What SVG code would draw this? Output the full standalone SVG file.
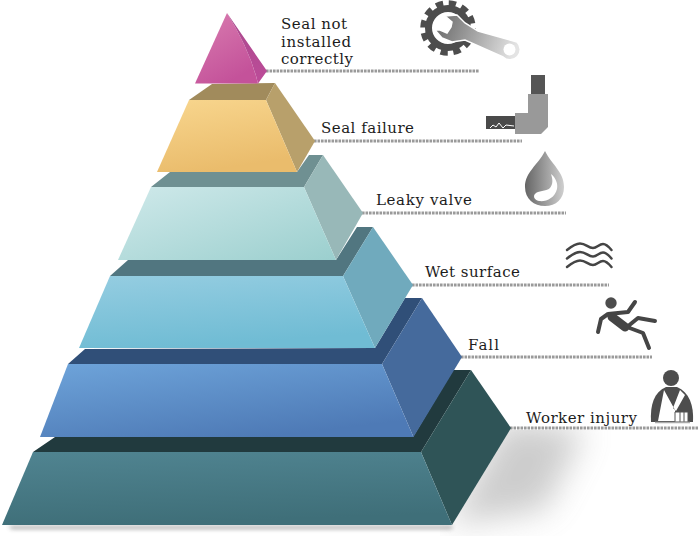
<svg xmlns="http://www.w3.org/2000/svg" width="700" height="536" viewBox="0 0 700 536">
<style>
.lbl{font-family:"DejaVu Serif","Liberation Serif",serif;font-size:15px;fill:#1c1c1c}
.ln{fill:none;stroke:#9a9a9a;stroke-width:3;stroke-dasharray:2.6 .9}
.ic{fill:#4d4d4d}
.st{fill:none;stroke:#454545;stroke-linecap:round;stroke-linejoin:round}
</style>
<defs>
<filter id="bl" x="-50%" y="-50%" width="200%" height="200%"><feGaussianBlur stdDeviation="16"/></filter>
<filter id="bs" x="-5%" y="-200%" width="110%" height="500%"><feGaussianBlur stdDeviation="2"/></filter>
<clipPath id="belowLine"><rect x="440" y="430" width="260" height="106"/></clipPath>
<linearGradient id="g0" x1="0" y1="0" x2=".5" y2="1"><stop offset="0" stop-color="#d97db0"/><stop offset="1" stop-color="#c4529a"/></linearGradient>
<linearGradient id="g0s" x1="0" y1="0" x2="0" y2="1"><stop offset="0" stop-color="#a8488c"/><stop offset="1" stop-color="#bd4c99"/></linearGradient>
<linearGradient id="g1" x1="0" y1="0" x2=".3" y2="1"><stop offset="0" stop-color="#f8d68e"/><stop offset="1" stop-color="#eabc6c"/></linearGradient>
<linearGradient id="g2" x1="0" y1="0" x2="1" y2="1"><stop offset="0" stop-color="#cfe9ea"/><stop offset="1" stop-color="#9bcfce"/></linearGradient>
<linearGradient id="g3" x1="0" y1="0" x2=".3" y2="1"><stop offset="0" stop-color="#95cde1"/><stop offset="1" stop-color="#70bcd4"/></linearGradient>
<linearGradient id="g4" x1="0" y1="0" x2=".6" y2="1"><stop offset="0" stop-color="#6ea4da"/><stop offset="1" stop-color="#4e7ab6"/></linearGradient>
<linearGradient id="g5" x1="0" y1="0" x2=".2" y2="1"><stop offset="0" stop-color="#508491"/><stop offset="1" stop-color="#3f6f79"/></linearGradient>
<linearGradient id="wr" gradientUnits="userSpaceOnUse" x1="445" y1="25" x2="515" y2="50"><stop offset="0" stop-color="#777"/><stop offset="1" stop-color="#e4e4e4"/></linearGradient>
<linearGradient id="dr" x1="0" y1="0" x2="1" y2="0"><stop offset="0" stop-color="#656565"/><stop offset="1" stop-color="#cfcfcf"/></linearGradient>
</defs>

<g id="shadow">
<g clip-path="url(#belowLine)"><polygon points="505,420 448,525 545,510 585,430" fill="#888" opacity=".42" filter="url(#bl)"/></g>
<polygon points="8,526 452,526 452,529 12,529" fill="#666" opacity=".6" filter="url(#bs)"/>
</g>

<g id="connectors">
<line class="ln" x1="266" y1="71" x2="479" y2="71"/>
<line class="ln" x1="314" y1="141" x2="522" y2="141"/>
<line class="ln" x1="362" y1="213" x2="566" y2="213"/>
<line class="ln" x1="412" y1="285" x2="609" y2="285"/>
<line class="ln" x1="461" y1="357" x2="652" y2="357"/>
<line class="ln" x1="510" y1="428" x2="698" y2="428"/>
</g>

<g id="level-worker-injury">
<polygon points="33,452 55,437 413,437 453,370 471,370 421,452" fill="#213a3e"/>
<polygon points="471,370 511,428 452,525 421,452" fill="#2f5457"/>
<polygon points="33,452 421,452 452,525 2,525" fill="url(#g5)"/>
<text class="lbl" x="526" y="423" textLength="111">Worker injury</text>
</g>
<g id="level-fall">
<polygon points="68,364 85,349 375,348 405,298 422,298 382,364" fill="#304f78"/>
<polygon points="422,298 462,357 413.5,437 382,364" fill="#456a9c"/>
<polygon points="68,364 382,364 413.5,437 40,437" fill="url(#g4)"/>
<text class="lbl" x="468" y="350" textLength="31">Fall</text>
</g>
<g id="level-wet-surface">
<polygon points="110,276 128,260 336,260 357,227 373,227 343,276" fill="#517680"/>
<polygon points="373,227 413,285 375,348 343,276" fill="#70aabd"/>
<polygon points="110,276 343,276 375,348 79,348" fill="url(#g3)"/>
<text class="lbl" x="425" y="277" textLength="95">Wet surface</text>
</g>
<g id="level-leaky-valve">
<polygon points="151,187 170,172 297,172 309,155 323,155 304,187" fill="#6f9092"/>
<polygon points="323,155 363,213 336,260 304,187" fill="#98b8b8"/>
<polygon points="151,187 304,187 336,260 118,260" fill="url(#g2)"/>
<text class="lbl" x="376" y="205" textLength="96">Leaky valve</text>
</g>
<g id="level-seal-failure">
<polygon points="189,100 212,84 275,83 266,100" fill="#a18b5c"/>
<polygon points="275,83 315,141 297,172 266,100" fill="#b8a06b"/>
<polygon points="189,100 266,100 297,172 157,172" fill="url(#g1)"/>
<text class="lbl" x="321" y="133" textLength="93">Seal failure</text>
</g>
<g id="level-seal-not-installed">
<path d="M227 13L195 83.500H258Q250 50 227 13Z" fill="url(#g0)"/>
<path d="M227 13L267 71L258 83.500Q250 50 227 13Z" fill="url(#g0s)"/>
<text class="lbl" x="281" y="29" textLength="66">Seal not</text>
<text class="lbl" x="281" y="47" textLength="70">installed</text>
<text class="lbl" x="281" y="64" textLength="72">correctly</text>
</g>

<g id="icon-gear">
<circle cx="448" cy="28" r="19.500" fill="none" stroke="#4d4d4d" stroke-width="7"/>
<circle cx="448" cy="28" r="24.500" fill="none" stroke="#4d4d4d" stroke-width="6.500" stroke-dasharray="7.200 5.630"/>
<path d="M445 16L457 15L465 23L478 31L517 42A10 10 0 0 1 503 57L465 40L452 42L442 38L435 30L440 30L447 33L451 27L452 22Z" fill="url(#wr)" stroke="#fff" stroke-width="1.500"/>
<circle cx="509.500" cy="49.500" r="6" fill="#fff"/>
</g>
<g id="icon-elbow">
<rect x="531" y="75" width="14" height="19" fill="#555"/>
<path d="M528 94H548V127L541 134H515V113H528Z" fill="#999"/>
<rect x="486" y="116" width="29" height="13" fill="#4a4a4a"/>
<path d="M490 128L493 125L496 127L499 123L503 128L506 125L514 126" fill="none" stroke="#fff" stroke-width="1"/>
</g>
<g id="icon-drop">
<path d="M545 151C538 165 525 172 525 187C525 199 534 206 545 206C556 206 564 199 564 187C564 172 552 165 545 151Z" fill="url(#dr)"/>
<path d="M551 174C556 178 558 184 557 189C555 198 546 202 539 201C534 200 533 196 535 194C538 190 546 192 550 188C553 184 553 180 551 174Z" fill="#fff"/>
</g>
<g id="icon-waves">
<path class="st" stroke-width="2.500" d="M567 250C572 246 576 243.500 580 243.500C586 243.500 588 248 593 248C597 248 599 244 603 244C606 244 609 247 611.500 250"/>
<path class="st" stroke-width="2.500" d="M567 258.500C572 254.500 576 252 580 252C586 252 588 256.500 593 256.500C597 256.500 599 252.500 603 252.500C606 252.500 609 255.500 611.500 258.500"/>
<path class="st" stroke-width="2.500" d="M567 267C572 263 576 260.500 580 260.500C586 260.500 588 265 593 265C597 265 599 261 603 261C606 261 609 264 611.500 267"/>
</g>
<g id="icon-fall">
<circle class="ic" cx="611" cy="303" r="5.700"/>
<path class="st" stroke-width="4" d="M608 314L601 319L598 332M608 314L628 312L635 302M627 327L638 318L655 321M627 327L643 333L649 348"/>
<path class="st" stroke-width="9" d="M612 317L625 327"/>
</g>
<g id="icon-injury">
<circle class="ic" cx="671" cy="378" r="8"/>
<path class="ic" d="M651 422C650 405 654 392 666 387L677 387C689 392 694 405 693 422Z"/>
<path d="M664 390L658 421H675V410ZM680 390L685 395L676 411L673 408Z" fill="#fff"/>
<path d="M675 412H688V422H675Z" fill="#fff" stroke="#555" stroke-width="1"/>
<path d="M680 412V422M684 412V422" stroke="#555" stroke-width="1"/>
<line x1="655" y1="422.500" x2="690" y2="422.500" stroke="#aaa" stroke-width="1.500"/>
</g>
</svg>
